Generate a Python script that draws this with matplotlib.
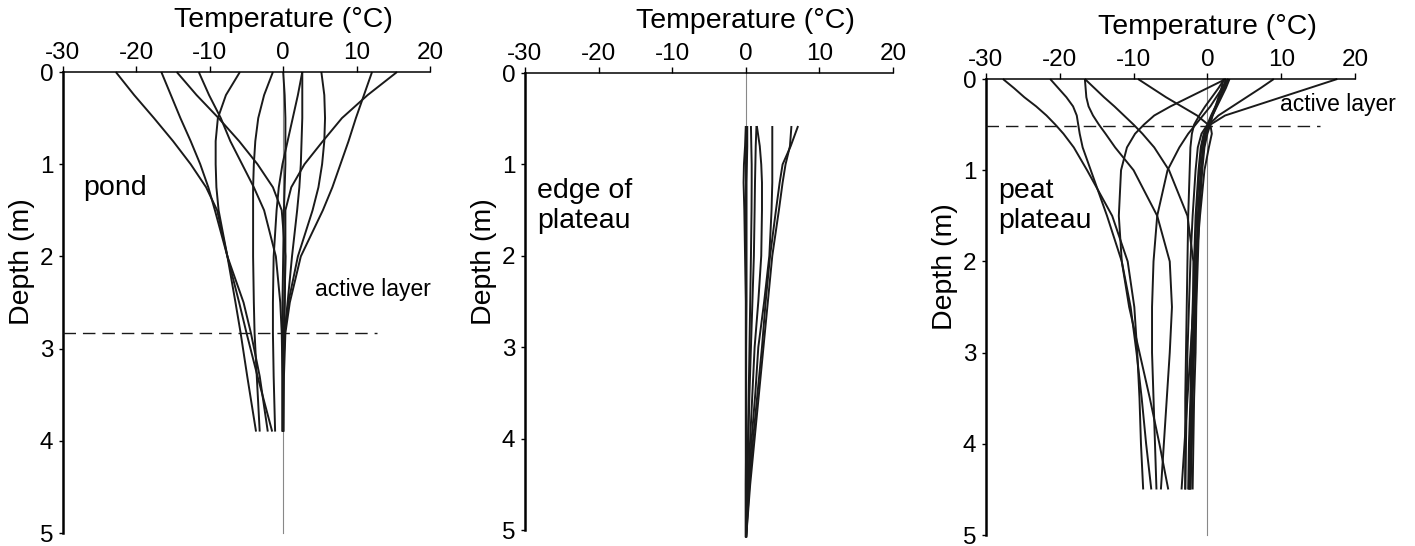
import matplotlib
matplotlib.use("Agg")
import matplotlib.pyplot as plt
import matplotlib.transforms as mtransforms

plt.rcParams["font.family"] = ["Liberation Sans", "DejaVu Sans"]
plt.rcParams["axes.unicode_minus"] = False

# --- data (temperature in degC, depth in m) ---
temp_ticks = [-30, -20, -10, 0, 10, 20]
depth_ticks = [0, 1, 2, 3, 4, 5]

pond_depth = [0, 0.25, 0.5, 0.75, 1.0, 1.25, 1.5, 2.0, 2.5, 2.83, 3.3, 3.9]
pond_temps = [
    [-22.8, -20.3, -17.6, -15.0, -12.6, -10.5, -9.0, -7.6, -6.5, -5.8, -4.9, -3.7],
    [-16.6, -15.3, -14.0, -12.6, -11.3, -10.2, -9.3, -7.6, -5.4, -4.4, -3.2, -2.1],
    [-14.5, -11.8, -8.8, -6.0, -3.5, -1.4, -0.2, 0.3, 0.2, 0.1, 0.0, 0.0],
    [-11.5, -10.1, -8.5, -7.2, -5.6, -4.0, -2.6, -1.0, -0.4, -0.2, -0.1, -0.1],
    [-5.9, -7.8, -8.9, -9.2, -9.2, -9.1, -8.8, -7.6, -6.0, -5.0, -3.5, -1.5],
    [-1.4, -2.6, -3.4, -3.8, -4.0, -4.1, -4.1, -4.1, -4.0, -3.9, -3.6, -3.2],
    [0.0, 0.2, 0.3, 0.3, 0.3, 0.2, 0.1, 0.0, -0.1, -0.1, -0.1, -0.1],
    [2.6, 2.0, 1.3, 0.6, -0.1, -0.6, -0.9, -1.3, -1.4, -1.4, -1.3, -1.1],
    [2.6, 2.6, 2.6, 2.5, 2.4, 2.2, 1.9, 1.2, 0.6, 0.2, 0.0, 0.0],
    [5.2, 5.6, 5.7, 5.6, 5.3, 4.8, 4.0, 2.0, 0.7, 0.2, 0.0, 0.0],
    [12.1, 11.0, 9.9, 8.9, 7.8, 6.7, 5.4, 2.4, 0.9, 0.3, 0.1, 0.0],
    [15.5, 11.5, 8.0, 5.4, 2.9, 1.1, 0.3, 0.3, 0.2, 0.1, 0.0, 0.0],
]
pond_active = 2.83

edge_depth = [0.58, 0.8, 1.0, 1.2, 1.5, 2.0, 2.5, 3.0, 3.5, 4.0, 4.5, 5.08]
edge_temps = [
    [0.0, 0.0, 0.0, 0.0, 0.0, 0.0, 0.0, 0.0, 0.0, 0.0, 0.0, 0.0],
    [0.2, 0.2, 0.15, 0.1, 0.1, 0.1, 0.1, 0.05, 0.05, 0.05, 0.0, 0.0],
    [0.0, -0.1, -0.25, -0.3, -0.2, -0.1, 0.0, 0.0, 0.0, 0.0, 0.0, 0.0],
    [0.7, 0.75, 0.8, 0.8, 0.78, 0.7, 0.6, 0.5, 0.4, 0.3, 0.15, 0.03],
    [1.45, 1.35, 1.3, 1.25, 1.2, 1.1, 0.9, 0.7, 0.5, 0.35, 0.2, 0.05],
    [1.5, 1.9, 2.1, 2.2, 2.2, 2.1, 1.7, 1.2, 0.9, 0.6, 0.3, 0.05],
    [3.6, 3.6, 3.6, 3.6, 3.5, 3.2, 2.5, 1.7, 1.3, 0.8, 0.4, 0.05],
    [6.2, 6.0, 5.4, 5.0, 4.5, 3.6, 3.0, 2.4, 1.8, 1.2, 0.6, 0.05],
    [7.1, 6.1, 5.0, 4.6, 4.1, 3.3, 2.7, 2.2, 1.6, 1.0, 0.5, 0.05],
]

peat_depth = [0, 0.1, 0.2, 0.3, 0.4, 0.5, 0.6, 0.75, 1.0, 1.5, 2.0, 2.5, 3.0, 3.5, 4.0, 4.5]
peat_temps = [
    [-27.7, -26.2, -24.8, -23.2, -21.8, -20.6, -19.5, -18.1, -16.3, -12.9, -10.8, -9.9, -9.5, -9.2, -9.0, -8.7],
    [-21.3, -20.2, -19.1, -18.2, -17.7, -17.5, -17.3, -16.9, -15.8, -13.6, -11.6, -10.4, -9.6, -8.9, -8.3, -7.6],
    [-16.6, -16.5, -16.4, -16.1, -15.5, -14.7, -13.8, -12.5, -10.0, -6.8, -5.1, -4.8, -5.1, -5.5, -5.9, -6.3],
    [-16.6, -15.3, -14.0, -12.6, -11.3, -10.0, -8.8, -7.2, -5.2, -2.7, -1.9, -1.9, -2.0, -2.1, -2.2, -2.3],
    [-9.4, -7.5, -5.6, -3.5, -1.4, 0.1, -0.4, -0.8, -1.1, -1.5, -1.7, -1.9, -2.1, -2.2, -2.4, -2.5],
    [2.5, 0.0, -2.5, -5.0, -7.2, -8.6, -9.8, -10.9, -11.7, -12.0, -11.6, -10.6, -9.2, -7.8, -6.5, -5.3],
    [2.8, 2.0, 1.2, 0.4, -0.6, -1.6, -2.6, -3.8, -5.4, -6.8, -7.3, -7.5, -7.5, -7.3, -7.1, -6.9],
    [2.3, 1.5, 0.6, -0.3, -1.1, -1.8, -2.1, -2.3, -2.4, -2.6, -2.7, -2.8, -2.9, -3.0, -3.0, -3.0],
    [2.2, 1.9, 1.5, 1.1, 0.6, 0.2, -0.2, -0.5, -0.8, -1.2, -1.4, -1.6, -1.8, -2.0, -2.1, -2.3],
    [2.5, 2.1, 1.7, 1.2, 0.7, 0.1, -0.5, -0.9, -1.2, -1.6, -1.8, -2.0, -2.2, -2.3, -2.5, -2.6],
    [2.8, 2.3, 1.7, 1.1, 0.5, 0.0, -0.8, -1.3, -1.6, -2.0, -2.3, -2.5, -2.7, -2.8, -2.9, -3.0],
    [3.0, 2.5, 1.9, 1.3, 0.7, 0.4, 0.6, 0.2, -0.4, -1.0, -1.5, -1.9, -2.3, -2.7, -3.1, -3.5],
    [9.0, 7.2, 5.3, 3.4, 1.5, 0.2, -0.3, -0.6, -0.9, -1.3, -1.5, -1.7, -1.9, -2.1, -2.2, -2.4],
    [17.6, 13.8, 10.0, 6.2, 2.4, 0.4, 0.0, -0.4, -0.7, -1.1, -1.3, -1.5, -1.6, -1.8, -1.9, -2.0],
]
peat_active = 0.52


def setup_axis(ax):
    ax.set_xlim(-30, 20)
    ax.set_ylim(5, 0)
    ax.xaxis.tick_top()
    ax.set_xticks(temp_ticks)
    ax.set_yticks(depth_ticks)
    ax.tick_params(axis="x", direction="out", length=4, width=1, pad=2, labelsize=17.5)
    ax.tick_params(axis="y", direction="out", length=3, width=1, pad=4, labelsize=17.5)
    for side in ["right", "bottom"]:
        ax.spines[side].set_visible(False)
    ax.spines["top"].set_linewidth(1.1)
    ax.spines["left"].set_linewidth(1.8)
    ax.plot([0, 0], [0, 5], color="#888888", lw=0.8, zorder=1, clip_on=False)
    trans = mtransforms.blended_transform_factory(ax.transData, ax.transAxes)
    ax.text(0, 1.113, "Temperature (°C)", transform=trans, ha="center", va="center", fontsize=20.5)
    ax.text(-0.112, 0.588, "Depth (m)", transform=ax.transAxes, rotation=90,
            ha="center", va="center", fontsize=20.5)


def draw_profiles(ax, depth, temps):
    for t in temps:
        ax.plot(t, depth, color="#1a1a1a", lw=1.4, solid_capstyle="butt",
                solid_joinstyle="round", zorder=2, clip_on=False)


fig = plt.figure(figsize=(14.15, 5.46), dpi=100)
ax1 = fig.add_axes([0.0445, 0.0238, 0.2594, 0.8443])
ax2 = fig.add_axes([0.3710, 0.0293, 0.2601, 0.8370])
ax3 = fig.add_axes([0.6968, 0.0200, 0.2608, 0.8353])

for ax in (ax1, ax2, ax3):
    setup_axis(ax)

draw_profiles(ax1, pond_depth, pond_temps)
ax1.plot([-30, 12.8], [pond_active, pond_active], color="#1a1a1a", lw=1, dashes=(9, 5), zorder=3)
ax1.text(4.3, 2.36, "active layer", fontsize=16.5, ha="left", va="center")
ax1.text(-27.3, 1.26, "pond", fontsize=20.5, ha="left", va="center")

draw_profiles(ax2, edge_depth, edge_temps)
ax2.text(-28.4, 1.46, "edge of\nplateau", fontsize=20.5, ha="left", va="center")

draw_profiles(ax3, peat_depth, peat_temps)
ax3.plot([-30, 15.3], [peat_active, peat_active], color="#1a1a1a", lw=1, dashes=(9, 5), zorder=3)
ax3.text(9.9, 0.28, "active layer", fontsize=16.5, ha="left", va="center")
ax3.text(-28.4, 1.39, "peat\nplateau", fontsize=20.5, ha="left", va="center")

fig.savefig("out.png", dpi=100)
